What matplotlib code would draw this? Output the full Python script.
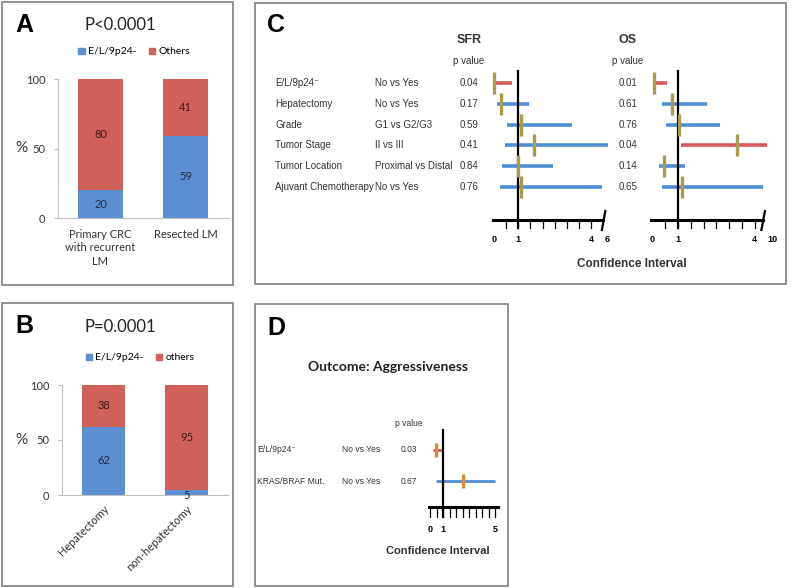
import matplotlib
matplotlib.use('Agg')
import matplotlib.pyplot as plt
from matplotlib.patches import Rectangle, Patch
from matplotlib import font_manager

# --- data ---
a_groups = ['Primary CRC\nwith recurrent\nLM', 'Resected LM']
a_pos = [20, 59]
a_other = [80, 41]

b_groups = ['Hepatectomy', 'non-hepatectomy']
b_pos = [62, 5]
b_other = [38, 95]

c_vars = ['E/L/9p24⁻', 'Hepatectomy', 'Grade', 'Tumor Stage', 'Tumor Location', 'Ajuvant Chemotherapy']
c_comp = ['No vs Yes', 'No vs Yes', 'G1 vs G2/G3', 'II vs III', 'Proximal vs Distal', 'No vs Yes']
sfr_p = ['0.04', '0.17', '0.59', '0.41', '0.84', '0.76']
sfr_lo = [0.0, 0.11, 0.55, 0.47, 0.34, 0.25]
sfr_hr = [0.02, 0.29, 1.11, 1.65, 0.97, 1.11]
sfr_hi = [0.73, 1.45, 3.22, 4.68, 2.44, 4.46]
sfr_ticklabels = ['0', '1', '4', '6']
os_p = ['0.01', '0.61', '0.76', '0.04', '0.14', '0.65']
os_lo = [0.03, 0.36, 0.53, 1.12, 0.25, 0.36]
os_hr = [0.07, 0.75, 1.05, 3.33, 0.46, 1.17]
os_hi = [0.56, 2.15, 2.65, 4.50, 1.27, 4.32]
os_ticklabels = ['0', '1', '4', '10']

d_vars = ['E/L/9p24⁻', 'KRAS/BRAF Mut.']
d_comp = ['No vs Yes', 'No vs Yes']
d_p = ['0.03', '0.67']
d_lo = [0.26, 0.44]
d_hr = [0.44, 2.50]
d_hi = [0.90, 5.00]
d_ticklabels = ['0', '1', '5']

# --- style ---
BLUE_BAR = '#5B8FD2'
RED_BAR = '#D0605A'
BLUE_LINE = '#4F8ED6'
RED_LINE = '#D9595A'
OLIVE = '#A99C4E'
ORANGE = '#D88A40'
TXT = '#333333'
W, H = 800, 588

names = {f.name for f in font_manager.fontManager.ttflist}
if 'Liberation Sans Narrow' in names:
    NARROW = ['Liberation Sans Narrow', 'DejaVu Sans']
    nsize = 8.3
else:
    NARROW = ['Liberation Sans', 'DejaVu Sans']
    nsize = 7.0
SANS = ['Lato', 'DejaVu Sans']
BOLD = ['Liberation Sans', 'DejaVu Sans']

fig = plt.figure(figsize=(8, 5.88), dpi=100)


def fx(x):
    return x / W


def fy(y):
    return 1 - y / H


def add_ax(left, top, right, bottom):
    return fig.add_axes([fx(left), fy(bottom), (right - left) / W, (bottom - top) / H])


def ftext(x, y, s, **kw):
    fig.text(fx(x), fy(y), s, **kw)


# panel frames
for (l, t, r, b) in [(2, 2, 233, 285), (255, 3, 786, 284), (2, 303, 233, 586), (255, 304, 508, 586)]:
    fig.patches.append(Rectangle((fx(l), fy(b)), (r - l) / W, (b - t) / H, transform=fig.transFigure,
                                 fill=False, edgecolor='#8A8A8A', lw=1.3))


def stacked(ax, groups, pos, other, rot):
    x = range(len(groups))
    ax.bar(x, pos, width=0.52, color=BLUE_BAR)
    ax.bar(x, other, bottom=pos, width=0.52, color=RED_BAR)
    for i in x:
        ax.text(i, pos[i] / 2 if pos[i] > 10 else pos[i] - 0.5, str(pos[i]), ha='center',
                va='center' if pos[i] > 10 else 'top', fontsize=8, color='#1F2A44', family=SANS)
        ax.text(i, pos[i] + other[i] / 2, str(other[i]), ha='center', va='center',
                fontsize=8, color='#3A1A1A', family=SANS)
    ax.set_xlim(-0.5, 1.5)
    ax.set_ylim(0, 100)
    ax.set_yticks([0, 50, 100])
    ax.set_xticks(list(x))
    if rot:
        ax.set_xticklabels(groups, rotation=45, ha='right', rotation_mode='anchor', family=SANS, fontsize=8)
    else:
        ax.set_xticklabels(groups, family=SANS, fontsize=8, linespacing=1.25)
    for lab in ax.get_yticklabels():
        lab.set_family(SANS)
        lab.set_fontsize(8)
    ax.tick_params(axis='y', length=3, color='#BFBFBF', labelcolor=TXT, pad=6)
    ax.tick_params(axis='x', length=0, labelcolor=TXT, pad=8 if not rot else 6)
    for s in ['top', 'right']:
        ax.spines[s].set_visible(False)
    for s in ['left', 'bottom']:
        ax.spines[s].set_color('#BFBFBF')


# panel A
axA = add_ax(58, 79, 228, 218)
stacked(axA, a_groups, a_pos, a_other, False)
ftext(24, 25, 'A', fontsize=18, fontweight='bold', family=BOLD, ha='center', va='center')
ftext(120, 25, 'P<0.0001', fontsize=12, family=SANS, ha='center', va='center', color='#222222')
ftext(21, 148, '%', fontsize=11, family=SANS, ha='center', va='center', color=TXT)
axA.legend(handles=[Patch(color=BLUE_BAR, label='E/L/9p24-'), Patch(color=RED_BAR, label='Others')],
           loc='center', bbox_to_anchor=(fx(134), fy(52)), bbox_transform=fig.transFigure, ncol=2,
           frameon=False, handlelength=0.6, handleheight=0.6, handletextpad=0.3, columnspacing=1.2,
           prop={'family': SANS, 'size': 7.5})

# panel B
axB = add_ax(62, 385, 228, 495)
stacked(axB, b_groups, b_pos, b_other, True)
ftext(24, 326, 'B', fontsize=18, fontweight='bold', family=BOLD, ha='center', va='center')
ftext(120, 327, 'P=0.0001', fontsize=12, family=SANS, ha='center', va='center', color='#222222')
ftext(21, 440, '%', fontsize=11, family=SANS, ha='center', va='center', color=TXT)
axB.legend(handles=[Patch(color=BLUE_BAR, label='E/L/9p24-'), Patch(color=RED_BAR, label='others')],
           loc='center', bbox_to_anchor=(fx(140), fy(358)), bbox_transform=fig.transFigure, ncol=2,
           frameon=False, handlelength=0.6, handleheight=0.6, handletextpad=0.3, columnspacing=1.2,
           prop={'family': SANS, 'size': 7.5})


def forest(ax, lo, hr, hi, pvals, ticks, ticklabels, axis_end, mcolor, msize, lw,
           r_axis, r_top, r_bot, r_lab, t_start, t_stop):
    ax.axis('off')
    for i in range(len(lo)):
        col = RED_LINE if float(pvals[i]) < 0.05 else BLUE_LINE
        ax.plot([lo[i], hi[i]], [i, i], color=col, lw=lw, solid_capstyle='butt', clip_on=False, zorder=2)
    ax.plot([1, 1], [r_top, r_bot], color='black', lw=1.6, clip_on=False, zorder=3)
    ax.plot(hr, range(len(hr)), ls='none', marker='|', ms=msize, mew=2.4, color=mcolor, clip_on=False, zorder=4)
    ax.plot([-0.05, axis_end], [r_axis, r_axis], color='black', lw=2.2, clip_on=False, zorder=3)
    t = t_start
    while t <= t_stop + 1e-9:
        ax.plot([t, t], [r_axis, r_bot], color='black', lw=0.9, clip_on=False)
        t += 0.5
    for pos, lab in zip(ticks, ticklabels):
        ax.text(pos, r_lab, lab, ha='center', va='center', fontsize=6.5, fontweight='bold', family=BOLD)


# panel C
ftext(276, 25, 'C', fontsize=18, fontweight='bold', family=BOLD, ha='center', va='center')
row0, rstep = 83, 20.8


def crow(px):
    return (px - row0) / rstep


axS = add_ax(480, 60, 620, 250)
axS.set_xlim((480 - 494) / 24.3, (620 - 494) / 24.3)
axS.set_ylim(crow(250), crow(60))
forest(axS, sfr_lo, sfr_hr, sfr_hi, sfr_p, [0, 1, 4, 4.65], sfr_ticklabels, 4.5, OLIVE, 16, 2.6,
       crow(220), crow(71), crow(228), crow(240), 0.5, 4.0)
axS.plot([4.44, 4.58], [crow(230), crow(211)], color='black', lw=1.6, clip_on=False)

axO = add_ax(640, 60, 785, 250)
axO.set_xlim((640 - 652.5) / 25.5, (785 - 652.5) / 25.5)
axO.set_ylim(crow(250), crow(60))
forest(axO, os_lo, os_hr, os_hi, os_p, [0, 1, 4, 4.69], os_ticklabels, 4.33, OLIVE, 16, 2.6,
       crow(220), crow(71), crow(228), crow(240), 0.5, 4.0)
axO.plot([4.27, 4.41], [crow(230), crow(211)], color='black', lw=1.6, clip_on=False)

for i in range(len(c_vars)):
    y = row0 + rstep * i
    ftext(275, y, c_vars[i], fontsize=nsize, family=NARROW, ha='left', va='center', color=TXT)
    ftext(375, y, c_comp[i], fontsize=nsize, family=NARROW, ha='left', va='center', color=TXT)
    ftext(469, y, sfr_p[i], fontsize=nsize, family=NARROW, ha='center', va='center', color=TXT)
    ftext(628, y, os_p[i], fontsize=nsize, family=NARROW, ha='center', va='center', color=TXT)
ftext(469, 40, 'SFR', fontsize=9, fontweight='bold', family=NARROW, ha='center', va='center', color=TXT)
ftext(469, 61, 'p value', fontsize=nsize, family=NARROW, ha='center', va='center', color=TXT)
ftext(628, 40, 'OS', fontsize=9, fontweight='bold', family=NARROW, ha='center', va='center', color=TXT)
ftext(628, 61, 'p value', fontsize=nsize, family=NARROW, ha='center', va='center', color=TXT)
ftext(632, 264, 'Confidence Interval', fontsize=8.5, fontweight='bold', family=BOLD, ha='center', va='center',
      color=TXT)

# panel D
ftext(276, 328, 'D', fontsize=18, fontweight='bold', family=BOLD, ha='center', va='center')
ftext(388, 367, 'Outcome: Aggressiveness', fontsize=10, fontweight='bold', family=SANS, ha='center', va='center',
      color='#222222')
d0, dstep = 450, 31


def drow(px):
    return (px - d0) / dstep


axD = add_ax(420, 420, 505, 545)
axD.set_xlim((420 - 430) / 13, (505 - 430) / 13)
axD.set_ylim(drow(545), drow(420))
forest(axD, d_lo, d_hr, d_hi, d_p, [0, 1, 5], d_ticklabels, 5.2, ORANGE, 10, 2.0,
       drow(507), drow(430), drow(517), drow(530), 0.0, 5.0)
dsize = nsize * 0.88
for i in range(len(d_vars)):
    y = d0 + dstep * i
    ftext(257, y, d_vars[i], fontsize=dsize, family=NARROW, ha='left', va='center', color=TXT)
    ftext(342, y, d_comp[i], fontsize=dsize, family=NARROW, ha='left', va='center', color=TXT)
    ftext(409, y, d_p[i], fontsize=dsize, family=NARROW, ha='center', va='center', color=TXT)
ftext(409, 423, 'p value', fontsize=dsize, family=NARROW, ha='center', va='center', color=TXT)
ftext(438, 551, 'Confidence Interval', fontsize=8, fontweight='bold', family=BOLD, ha='center', va='center',
      color=TXT)

fig.savefig('out.png', dpi=100)
